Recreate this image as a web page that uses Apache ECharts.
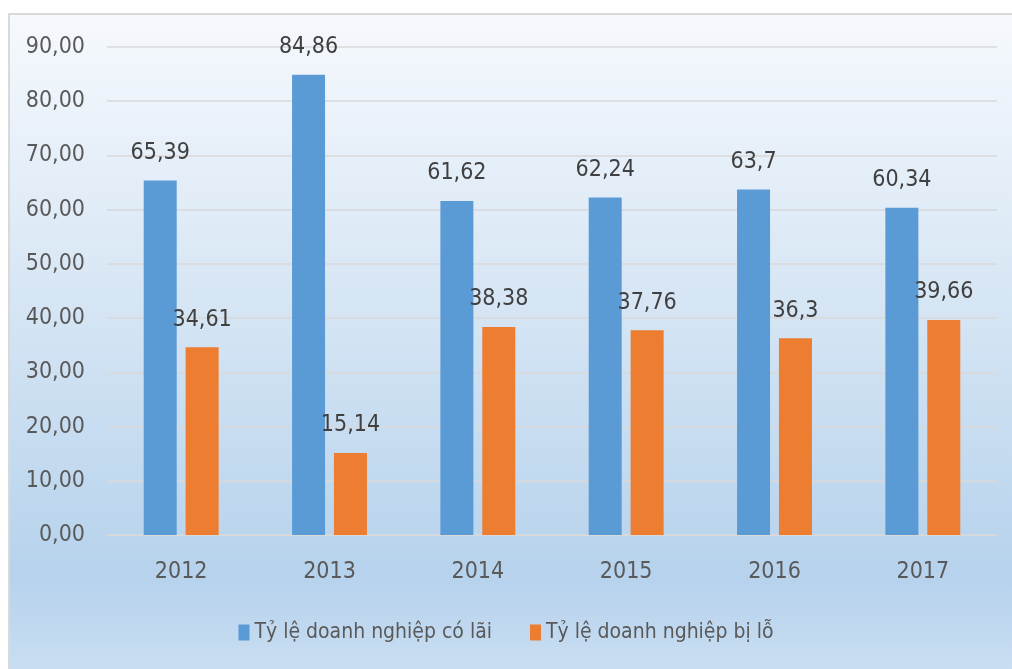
<!DOCTYPE html>
<html>
<head>
<meta charset="utf-8">
<style>
  html, body { margin: 0; padding: 0; background: #ffffff; }
  #chart { width: 1012px; height: 669px; }
</style>
<script src="https://cdn.jsdelivr.net/npm/echarts@6/dist/echarts.min.js"></script>
</head>
<body>
<div id="chart"></div>
<script>
// Years on the category axis
const years = ['2012', '2013', '2014', '2015', '2016', '2017'];
// Share of enterprises with profit (%)
const profitShare = [65.39, 84.86, 61.62, 62.24, 63.7, 60.34];
// Share of enterprises with loss (%)
const lossShare = [34.61, 15.14, 38.38, 37.76, 36.3, 39.66];
// Legend names
const seriesNames = ['Tỷ lệ doanh nghiệp có lãi', 'Tỷ lệ doanh nghiệp bị lỗ'];

const FONT = "'Liberation Sans Narrow', 'DejaVu Sans Condensed', 'Lato', sans-serif";
const commaNum = v => String(v).replace('.', ',');

const chart = echarts.init(document.getElementById('chart'), null, { renderer: 'canvas' });

const labelStyle = {
  show: true,
  position: 'top',
  distance: 16,
  color: '#404040',
  fontFamily: FONT,
  fontSize: 23,
  formatter: p => commaNum(p.value)
};

chart.setOption({
  animation: false,
  graphic: [{
    type: 'rect',
    z: -10,
    silent: true,
    shape: { x: 9, y: 14, width: 1010, height: 660 },
    style: {
      fill: new echarts.graphic.LinearGradient(0, 0, 0, 1, [
        { offset: 0, color: '#f6f9fd' },
        { offset: 0.45, color: '#d5e5f4' },
        { offset: 0.85, color: '#b6d2ec' },
        { offset: 1, color: '#c9def2' }
      ]),
      stroke: '#d9d9d9',
      lineWidth: 2
    }
  }],
  grid: { left: 107, right: 15, top: 47, bottom: 134, containLabel: false },
  legend: {
    bottom: 21,
    left: 'center',
    itemWidth: 11,
    itemHeight: 16,
    itemGap: 38,
    icon: 'rect',
    textStyle: { color: '#595959', fontFamily: FONT, fontSize: 21 },
    data: seriesNames
  },
  xAxis: {
    type: 'category',
    data: years,
    axisLine: { show: true, lineStyle: { color: '#d9d9d9', width: 1 } },
    axisTick: { show: false },
    axisLabel: { color: '#595959', fontFamily: FONT, fontSize: 23, margin: 26 }
  },
  yAxis: {
    type: 'value',
    min: 0,
    max: 90,
    interval: 10,
    axisLine: { show: false },
    axisTick: { show: false },
    splitLine: { lineStyle: { color: '#d9d9d9', width: 1.5 } },
    axisLabel: {
      color: '#595959', fontFamily: FONT, fontSize: 23, margin: 22,
      formatter: v => v.toFixed(2).replace('.', ',')
    }
  },
  series: [
    {
      name: seriesNames[0],
      type: 'bar',
      data: profitShare,
      barWidth: 33,
      barGap: '27%',
      itemStyle: { color: '#5b9bd5' },
      label: labelStyle
    },
    {
      name: seriesNames[1],
      type: 'bar',
      data: lossShare,
      barWidth: 33,
      barGap: '27%',
      itemStyle: { color: '#ed7d31' },
      label: labelStyle
    }
  ]
});
</script>
</body>
</html>
